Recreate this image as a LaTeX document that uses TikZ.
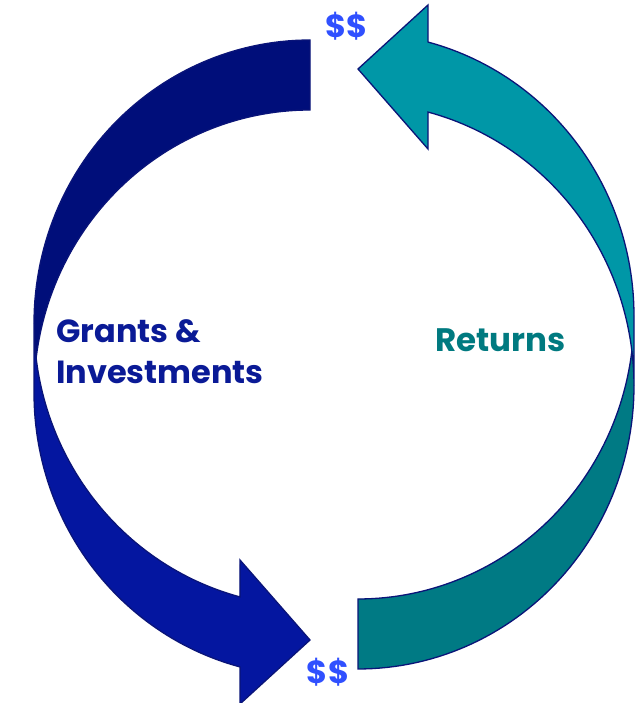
\documentclass[tikz,border=0pt]{standalone}
\usepackage{fontspec}
\setmainfont{Poppins}
\definecolor{navyfront}{HTML}{0416A0}
\definecolor{navyback}{HTML}{000E7A}
\definecolor{tealfront}{HTML}{0097A7}
\definecolor{tealback}{HTML}{007A84}
\definecolor{outlinec}{HTML}{0A1478}
\definecolor{dollar}{HTML}{3050FF}
\definecolor{navytext}{HTML}{0A1A96}
\definecolor{tealtext}{HTML}{007A80}
\newcommand{\curvedarrow}[2]{%
  % back (upper) part
  \fill[#1] plot[domain=90:187.1,samples=60,variable=\t] ({310+276*cos(\t)},{379.9+283.1*sin(\t)})
    -- plot[domain=172.9:90,samples=60,variable=\t] ({310+276*cos(\t)},{309.9+283.1*sin(\t)}) -- cycle;
  % front (lower) part with head
  \filldraw[#2,draw=outlinec,line width=1.3pt,line join=miter]
    plot[domain=180:255.3,samples=60,variable=\t] ({310+276*cos(\t)},{379.9+283.1*sin(\t)})
    -- (240,143) -- (310,63) -- (240,-1) -- (240,36)
    -- plot[domain=255.3:180,samples=60,variable=\t] ({310+276*cos(\t)},{309.9+283.1*sin(\t)}) -- cycle;
  % outline of back part
  \draw[outlinec,line width=1.3pt]
    plot[domain=180:90,samples=60,variable=\t] ({310+276*cos(\t)},{379.9+283.1*sin(\t)})
    -- plot[domain=90:172.9,samples=60,variable=\t] ({310+276*cos(\t)},{309.9+283.1*sin(\t)});
}
\begin{document}
\begin{tikzpicture}[x=1pt,y=1pt,
  dollarlbl/.style={text=dollar,font=\bfseries\fontsize{32}{32}\selectfont,inner sep=0pt},
  leftlbl/.style={text=navytext,font=\bfseries\fontsize{32}{32}\selectfont,inner sep=0pt,anchor=base west},
  rightlbl/.style={text=tealtext,font=\bfseries\fontsize{32.5}{32.5}\selectfont,inner sep=0pt,anchor=base west}]
\useasboundingbox (0,0) rectangle (644,703);
\fill[white] (0,0) rectangle (644,703);
% left arrow (Grants & Investments)
\begin{scope}
\curvedarrow{navyback}{navyfront}
\end{scope}
% right arrow (Returns), same shape rotated 180 degrees
\begin{scope}[rotate around={180:(334,348.5)}]
\curvedarrow{tealback}{tealfront}
\end{scope}
\node[leftlbl] (grants) at (56,360) {Grants \&};
\node[leftlbl] (invest) at (56,319) {Investments};
\node[rightlbl] (returns) at (435,351) {Returns};
\node[dollarlbl] (dtop) at (346.5,676.5) {\$\$};
\node[dollarlbl] (dbot) at (328,30.5) {\$\$};
\end{tikzpicture}
\end{document}
